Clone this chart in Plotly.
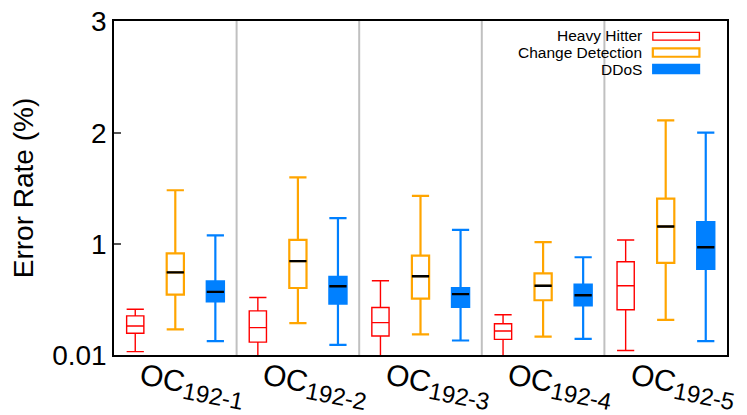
import plotly.graph_objects as go

categories = ["OC192-1", "OC192-2", "OC192-3", "OC192-4", "OC192-5"]
tick_labels = ["OC<sub><span style='font-size:24px'>192-1</span></sub>",
               "OC<sub><span style='font-size:24px'>192-2</span></sub>",
               "OC<sub><span style='font-size:24px'>192-3</span></sub>",
               "OC<sub><span style='font-size:24px'>192-4</span></sub>",
               "OC<sub><span style='font-size:24px'>192-5</span></sub>"]

# Heavy Hitter
hh_low = [0.04, 0.0, 0.0, 0.0, 0.05]
hh_q1 = [0.205, 0.125, 0.18, 0.15, 0.415]
hh_med = [0.27, 0.255, 0.30, 0.225, 0.63]
hh_q3 = [0.36, 0.405, 0.435, 0.29, 0.845]
hh_high = [0.42, 0.525, 0.675, 0.37, 1.04]

# Change Detection
cd_low = [0.24, 0.295, 0.195, 0.175, 0.325]
cd_q1 = [0.55, 0.61, 0.515, 0.50, 0.835]
cd_med = [0.75, 0.85, 0.715, 0.63, 1.16]
cd_q3 = [0.92, 1.04, 0.90, 0.74, 1.41]
cd_high = [1.485, 1.60, 1.435, 1.02, 2.11]

# DDoS
dd_low = [0.135, 0.10, 0.14, 0.155, 0.135]
dd_q1 = [0.49, 0.47, 0.44, 0.455, 0.78]
dd_med = [0.575, 0.625, 0.555, 0.545, 0.975]
dd_q3 = [0.67, 0.71, 0.61, 0.64, 1.20]
dd_high = [1.08, 1.235, 1.13, 0.885, 2.00]

y_ticks = [0.01, 1, 2, 3]
y_ticktext = ["0.01", "1", "2", "3"]

RED = "#ff0000"
ORANGE = "#ffa500"
BLUE = "#0080ff"
FONT = "Liberation Sans, Arial, sans-serif"

fig = go.Figure()

series = [
    ("Heavy Hitter", hh_low, hh_q1, hh_med, hh_q3, hh_high, RED, "white", 1.4, False),
    ("Change Detection", cd_low, cd_q1, cd_med, cd_q3, cd_high, ORANGE, "white", 2.2, True),
    ("DDoS", dd_low, dd_q1, dd_med, dd_q3, dd_high, BLUE, BLUE, 2.2, True),
]

for name, lo, q1, med, q3, hi, col, fill, lw, black_median in series:
    fig.add_trace(go.Box(
        x=categories, q1=q1, median=med, q3=q3, lowerfence=lo, upperfence=hi,
        name=name, offsetgroup=name, line=dict(color=col, width=lw),
        fillcolor=fill, whiskerwidth=1, boxpoints=False, showlegend=False,
        hoverinfo="skip",
    ))
    if black_median:
        fig.add_trace(go.Box(
            x=categories, q1=med, median=med, q3=med, lowerfence=med, upperfence=med,
            name=name + " median", offsetgroup=name,
            line=dict(color="black", width=2.4),
            fillcolor="rgba(0,0,0,0)", whiskerwidth=0, boxpoints=False,
            showlegend=False, hoverinfo="skip",
        ))

# group separators
for i in range(len(categories) - 1):
    fig.add_shape(type="line", xref="x", yref="paper", x0=i + 0.5, x1=i + 0.5,
                  y0=0, y1=1, line=dict(color="#c0c0c0", width=2), layer="below")

# category labels (rotated, offset like the reference)
for cat, lab in zip(categories, tick_labels):
    fig.add_annotation(x=cat, y=-0.093, xref="x", yref="paper", text=lab,
                       showarrow=False, textangle=11, xanchor="center",
                       yanchor="middle", xshift=17,
                       font=dict(family=FONT, size=30, color="black"))

# legend (text then sample, right-aligned as in reference)
legend_items = [("Heavy Hitter", RED, "white", 1.3, 0.956, 0.943, 0.966),
                ("Change Detection", ORANGE, "white", 2.2, 0.906, 0.893, 0.918),
                ("DDoS", BLUE, BLUE, 1.5, 0.856, 0.843, 0.870)]
for txt, col, fill, lw, yc, y0, y1 in legend_items:
    fig.add_annotation(x=0.865, y=yc, xref="paper", yref="paper", text=txt,
                       showarrow=False, xanchor="right", yanchor="middle",
                       font=dict(family=FONT, size=15.5, color="black"))
    fig.add_shape(type="rect", xref="paper", yref="paper", x0=0.879, x1=0.955,
                  y0=y0, y1=y1, line=dict(color=col, width=lw), fillcolor=fill)

# the page body adds an 8px offset, so the figure is 8px smaller
fig.update_layout(
    width=739, height=407,
    margin=dict(l=106, r=20, t=13, b=60),
    paper_bgcolor="white", plot_bgcolor="white",
    boxmode="group", boxgap=0.02, boxgroupgap=0.57,
    font=dict(family=FONT, color="black"),
    showlegend=False,
)
fig.update_xaxes(
    type="category", range=[-0.5, len(categories) - 0.5],
    showticklabels=False, ticks="",
    showline=True, linecolor="black", linewidth=1.5, mirror=True,
    showgrid=False, zeroline=False, automargin=False,
)
fig.update_yaxes(
    range=[0.01, 3], tickvals=y_ticks, ticktext=y_ticktext,
    tickfont=dict(size=28, family=FONT), ticks="inside", ticklen=7,
    tickcolor="#555555", tickwidth=1.5, ticklabeloverflow="allow",
    showline=True, linecolor="black", linewidth=1.5, mirror=True,
    showgrid=False, zeroline=False, automargin=False,
    title=dict(text="Error Rate (%)", font=dict(size=28, family=FONT), standoff=10),
)

fig.write_html("out.html")
